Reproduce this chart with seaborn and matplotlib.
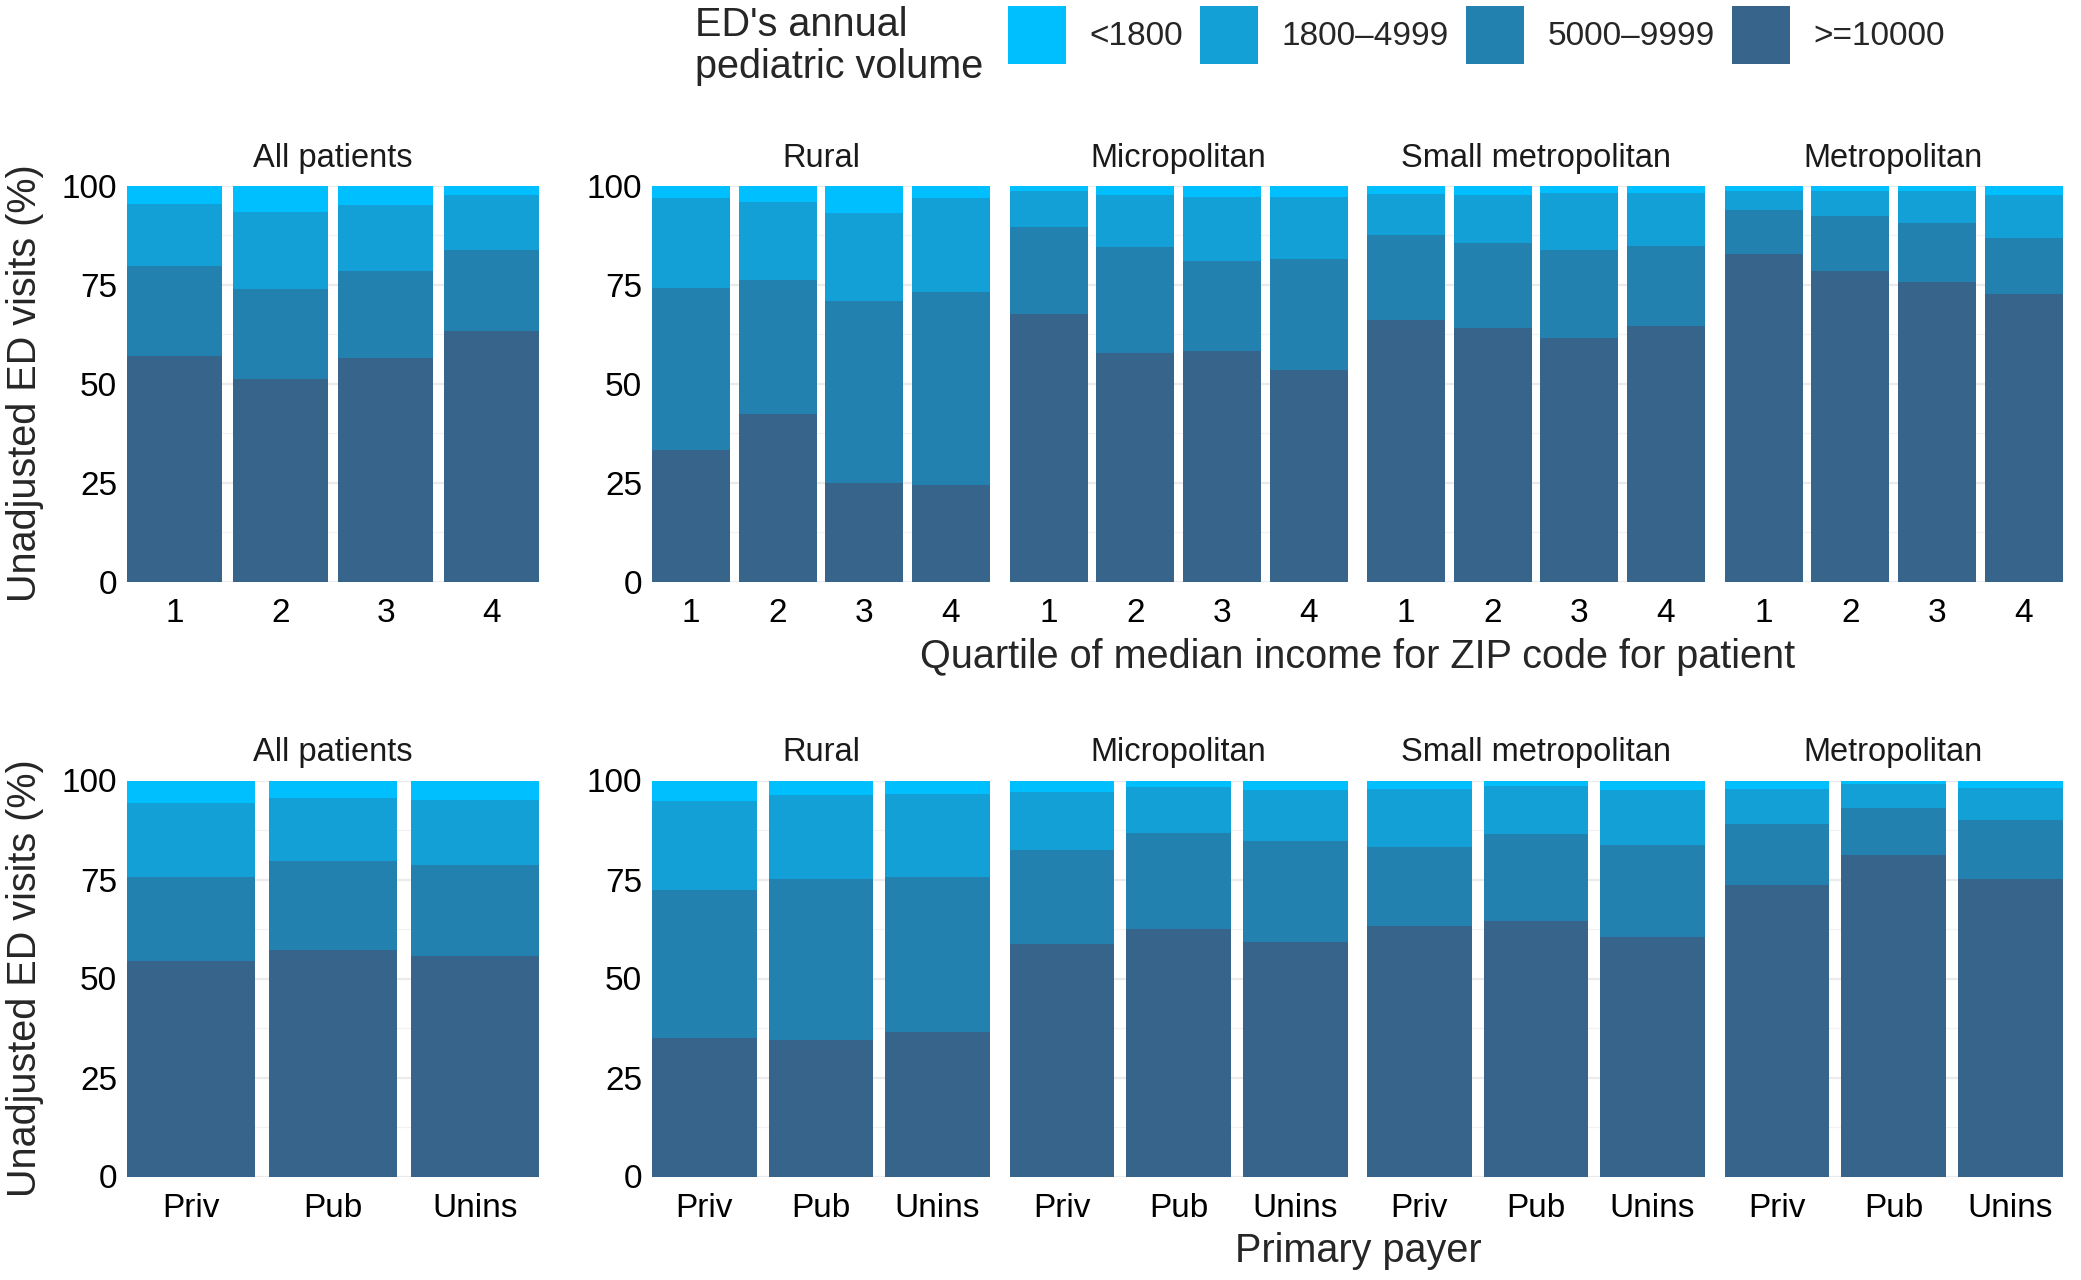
import numpy as np
import pandas as pd
import matplotlib
matplotlib.use("Agg")
import matplotlib.pyplot as plt
import seaborn as sns
from matplotlib.patches import Patch
from matplotlib.ticker import MultipleLocator

# ---------------- data ----------------
panels = ["All patients", "Rural", "Micropolitan", "Small metropolitan", "Metropolitan"]
volume_levels = ["<1800", "1800\u20134999", "5000\u20139999", ">=10000"]
volume_colors = ["#00BFFF", "#12A0D7", "#2381B0", "#36648B"]

income_quartiles = ["1", "2", "3", "4"]
payers = ["Priv", "Pub", "Unins"]

# Income quartile rows: share (%) of visits per ED-volume group, panel by panel, Q1..Q4
inc_ge10000   = [57.1, 51.3, 56.6, 63.4,  33.3, 42.4, 24.9, 24.4,  67.6, 57.9, 58.2, 53.6,
                 66.0, 64.2, 61.5, 64.5,  82.9, 78.4, 75.8, 72.7]
inc_5000_9999 = [22.6, 22.6, 21.8, 20.5,  41.0, 33.9, 45.9, 48.8,  22.1, 26.6, 22.9, 28.0,
                 21.7, 21.3, 22.3, 20.4,  11.0, 14.0, 14.8, 14.2]
inc_1800_4999 = [15.8, 19.6, 16.8, 13.7,  22.6, 19.7, 22.4, 23.8,   9.0, 13.2, 16.0, 15.6,
                 10.3, 12.2, 14.5, 13.4,   4.9,  6.3,  8.1, 10.7]
inc_lt1800    = [ 4.5,  6.5,  4.8,  2.4,   3.1,  4.0,  6.8,  3.0,   1.3,  2.3,  2.9,  2.8,
                  2.0,  2.3,  1.7,  1.7,   1.2,  1.3,  1.3,  2.4]

# Primary payer rows: panel by panel, Priv/Pub/Unins
pay_ge10000   = [54.3, 57.3, 55.8,  35.0, 34.4, 36.6,  58.6, 62.6, 59.2,
                 63.3, 64.5, 60.4,  73.7, 81.2, 75.1]
pay_5000_9999 = [21.4, 22.4, 22.9,  37.4, 40.7, 39.1,  23.8, 24.2, 25.4,
                 19.8, 22.1, 23.4,  15.3, 11.9, 15.0]
pay_1800_4999 = [18.5, 16.0, 16.5,  22.3, 21.2, 20.8,  14.7, 11.5, 13.0,
                 14.8, 11.9, 13.9,   8.9,  5.9,  8.1]
pay_lt1800    = [ 5.8,  4.3,  4.8,   5.3,  3.7,  3.5,   2.9,  1.7,  2.4,
                  2.1,  1.5,  2.3,   2.1,  1.0,  1.8]


def build_frame(cats, ge10000, v5000, v1800, lt1800):
    rows = []
    i = 0
    for p in panels:
        for c in cats:
            rows.append({"panel": p, "cat": c,
                         ">=10000": ge10000[i], "5000\u20139999": v5000[i],
                         "1800\u20134999": v1800[i], "<1800": lt1800[i]})
            i += 1
    df = pd.DataFrame(rows)
    # cumulative tops for stacking (bottom -> top: >=10000, 5000-9999, 1800-4999, <1800)
    stack_order = volume_levels[::-1]
    cum = np.zeros(len(df))
    for lev in stack_order:
        cum = cum + df[lev].to_numpy()
        df["top_" + lev] = cum
    return df


inc_df = build_frame(income_quartiles, inc_ge10000, inc_5000_9999, inc_1800_4999, inc_lt1800)
pay_df = build_frame(payers, pay_ge10000, pay_5000_9999, pay_1800_4999, pay_lt1800)

# ---------------- style ----------------
sns.set_theme(style="white")
plt.rcParams["font.family"] = ["Liberation Sans", "DejaVu Sans"]
plt.rcParams["axes.unicode_minus"] = False

W, H = 2081, 1280
fig = plt.figure(figsize=(W / 100, H / 100), dpi=100)

TICK_FS = 24
STRIP_FS = 23.5
TITLE_FS = 28.5
LEG_FS = 24


def panel_rect(idx, top_px, bottom_px):
    if idx == 0:
        left, width = 127, 412
    else:
        left, width = 652 + (idx - 1) * 357.5, 338
    return [left / W, 1 - bottom_px / H, width / W, (bottom_px - top_px) / H]


def draw_row(df, cats, top_px, bottom_px):
    for idx, p in enumerate(panels):
        ax = fig.add_axes(panel_rect(idx, top_px, bottom_px))
        sub = df[df["panel"] == p]
        for lev, col in zip(volume_levels, volume_colors):
            sns.barplot(data=sub, x="cat", y="top_" + lev, order=cats, color=col,
                        saturation=1, width=0.9, errorbar=None, linewidth=0, ax=ax)
        ax.set_xlim(-0.45, len(cats) - 0.55)
        ax.set_ylim(0, 100)
        ax.set_xlabel("")
        ax.set_ylabel("")
        ax.yaxis.set_major_locator(MultipleLocator(25))
        ax.yaxis.set_minor_locator(MultipleLocator(12.5))
        ax.grid(False)
        ax.yaxis.grid(True, which="major", color="#EBEBEB", linewidth=1.6)
        ax.yaxis.grid(True, which="minor", color="#F2F2F2", linewidth=0.9)
        ax.set_axisbelow(True)
        for s in ax.spines.values():
            s.set_visible(False)
        ax.tick_params(axis="both", which="both", length=0)
        ax.tick_params(axis="x", labelsize=TICK_FS, pad=12, colors="black")
        ax.tick_params(axis="y", labelsize=TICK_FS, pad=7, colors="black")
        if idx > 1:
            ax.tick_params(axis="y", labelleft=False)
        ax.set_title(p, fontsize=STRIP_FS, pad=14, color="#1a1a1a")


draw_row(inc_df, income_quartiles, 186, 581.5)
draw_row(pay_df, payers, 780.5, 1176.5)

# axis titles
fig.text(1358 / W, 1 - 657 / H, "Quartile of median income for ZIP code for patient",
         ha="center", va="center", fontsize=TITLE_FS)
fig.text(1358 / W, 1 - 1251 / H, "Primary payer", ha="center", va="center", fontsize=TITLE_FS)
fig.text(25 / W, 1 - 383.5 / H, "Unadjusted ED visits (%)", rotation=90,
         ha="center", va="center", fontsize=TITLE_FS)
fig.text(25 / W, 1 - 978.5 / H, "Unadjusted ED visits (%)", rotation=90,
         ha="center", va="center", fontsize=TITLE_FS)

# legend
fig.text(695 / W, 1 - 46 / H, "ED's annual\npediatric volume", ha="left", va="center",
         fontsize=TITLE_FS, linespacing=1.12)
handles = [Patch(facecolor=c, edgecolor="none") for c in volume_colors]
fig.legend(handles, volume_levels, ncol=4, loc="upper left",
           bbox_to_anchor=(1008 / W, 1 - 6 / H), frameon=False, borderpad=0,
           borderaxespad=0, fontsize=LEG_FS, handlelength=1.74, handleheight=2.3,
           handletextpad=0.7, columnspacing=0.52)

fig.savefig("out.png", dpi=100, facecolor="white")
